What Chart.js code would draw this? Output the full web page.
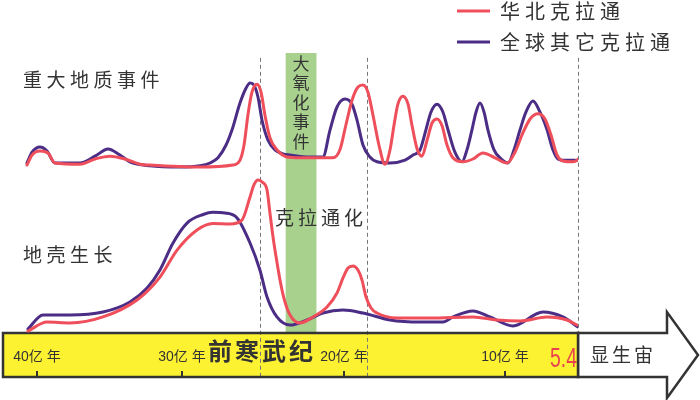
<!DOCTYPE html>
<html><head><meta charset="utf-8">
<script src="https://cdn.jsdelivr.net/npm/chart.js@4.4.1/dist/chart.umd.min.js"></script>
<style>html,body{margin:0;padding:0;background:#fff}canvas{display:block}</style>
</head><body><canvas id="c" width="700" height="400"></canvas>
<script>
// ---------- data (ages in 亿年, values are relative intensities) ----------
const SERIES_NAMES = ['华北克拉通', '全球其它克拉通'];
const TICK_AGES = [40, 30, 20, 10];
const TICK_LABELS = ['40亿 年', '30亿 年', '20亿 年', '10亿 年'];
const PHANEROZOIC_START = 5.4;
const BOUNDARY_AGES = [25.2, 18.6, 5.4];
const GOE_AGES = [23.6, 21.7];

// 重大地质事件 — 华北克拉通
const NCC_EVENT_AGE = [40.69,40.34,39.79,39.24,38.76,37.03,36.0,34.97,33.93,32.9,32.21,28.89,26.85,26.42,26.17,25.93,25.68,25.37,25.12,24.88,24.57,24.14,23.52,22.72,21.48,20.68,20.25,19.88,19.50,19.13,18.82,18.51,18.20,17.83,17.45,17.14,16.89,16.65,16.34,16.02,15.78,15.47,15.16,14.84,14.53,14.22,13.91,13.60,13.23,12.61,11.99,11.37,10.62,9.87,9.37,8.93,8.42,7.92,7.48,7.10,6.72,6.35,5.78,5.46,5.27];
const NCC_EVENT_VAL = [0,12.5,17.5,15,2.5,1,7.5,11,7.5,1,0,-2.5,0,6,25,62.5,91,101,91,62.5,34,19,10,9,9,9,19,50,81,97.5,100,91,62.5,25,1,19,50,76,86,76,50,21,11,31,52.5,57.5,49,25,9,4,7.5,15,9,2.5,16,37.5,57.5,64,57.5,37.5,12.5,5,4,6,10];
// 重大地质事件 — 全球其它克拉通
const GLB_EVENT_AGE = [40.69,40.34,39.79,39.31,38.76,37.03,36.0,35.10,34.28,33.59,32.21,30.14,28.89,28.27,27.78,27.28,26.91,26.42,26.05,25.80,25.56,25.31,25.06,24.69,24.26,23.77,23.33,22.10,21.30,20.86,20.43,19.94,19.50,19.19,18.82,18.39,17.95,17.14,16.21,15.71,15.28,14.91,14.60,14.22,13.85,13.54,13.11,12.67,12.36,12.05,11.80,11.55,11.30,11.06,10.68,10.31,9.81,9.43,9.05,8.68,8.24,7.79,7.35,6.98,6.66,6.35,5.46];
const GLB_EVENT_VAL = [2.5,16,22.5,17.5,2.5,2.5,11,20,12.5,4,-1,-2.5,-1,2.5,9,25,44,77.5,96,102.5,100,85,56,31,19,14,12.5,10,10,44,72.5,82.5,76,56,25,10,4,2.5,6,12.5,18.75,44,66,76,66,44,16,4,19,44,66,77.5,66,44,19,9,2.5,19,44,66,80,66,44,19,7.5,6,6];
// 地壳生长 — 华北克拉通
const NCC_GROWTH_AGE = [40.62,39.31,37.72,35.45,33.10,31.52,30.34,29.07,28.09,27.04,26.30,25.80,25.56,25.31,25.06,24.75,24.57,24.38,24.14,23.95,23.71,23.33,22.72,21.91,21.05,20.43,20.06,19.75,19.44,19.13,18.88,18.63,18.32,17.95,16.71,14.66,11.99,10.50,9.05,7.35,6.09,5.46];
const NCC_GROWTH_VAL = [-0.7,5.3,4.7,8.7,20,35.3,53.3,66.7,71,70.7,73.3,88.7,96.7,100,98.7,93.3,78,62,45.3,33.3,21.3,10,4.7,8.7,15.3,24.7,34.7,41.3,42.7,40,33.3,22,14.7,11.3,8,8,8.7,6.7,6,8.7,6.7,3.3];
// 地壳生长 — 全球其它克拉通
const GLB_GROWTH_AGE = [40.62,39.59,37.72,35.45,33.59,32.41,31.52,30.62,29.69,28.70,28.09,27.34,26.60,25.80,25.19,24.75,24.14,23.33,22.28,21.30,20.06,18.82,17.14,15.28,13.85,13.23,11.99,10.93,9.50,7.61,6.35,5.40];
const GLB_GROWTH_VAL = [0.7,10,10,12,18.7,28,40,58,71.3,77,78.5,78,74.7,58,40,22,8.7,3.3,6.7,11.3,13.3,11.3,6.7,5.3,5.3,8.7,12.7,8.7,2.7,12,8.7,2];

// ---------- scale ranges ----------
const EVENT_MIN = -265, EVENT_MAX = 206.25;
const GROWTH_MIN = -31.33, GROWTH_MAX = 220;

const RED = '#ee4f5b', PURPLE = '#4b2d86', INK = '#333333';
const CJK = '"Noto Sans CJK SC", sans-serif';

// ---------- a hand-drawn (piecewise linear) geological time axis ----------
const LinearScale = Chart.LinearScale || Chart.registry.getScale('linear');
class AgeScale extends LinearScale {
  _frac(age) {
    const A = AgeScale.anchorAges, F = AgeScale.anchorFracs;
    let i = 0;
    while (i < A.length - 2 && age < A[i + 1]) i++;
    return F[i] + (age - A[i]) / (A[i + 1] - A[i]) * (F[i + 1] - F[i]);
  }
  getPixelForValue(value) {
    if (value === null || value === undefined || isNaN(value)) return NaN;
    return this.getPixelForDecimal(this._frac(value));
  }
  getValueForPixel(pixel) {
    const d = this.getDecimalForPixel(pixel);
    const A = AgeScale.anchorAges, F = AgeScale.anchorFracs;
    let i = 0;
    while (i < F.length - 2 && d > F[i + 1]) i++;
    return A[i] + (d - F[i]) / (F[i + 1] - F[i]) * (A[i + 1] - A[i]);
  }
}
AgeScale.id = 'age';
AgeScale.defaults = LinearScale.defaults;
AgeScale.anchorAges = [40, 30, 20, 10, 5.4];
AgeScale.anchorFracs = [0.0591, 0.3113, 0.5930, 0.8730, 1.0];
Chart.register(AgeScale);

const pts = (ages, vals) => ages.map((a, i) => ({ x: a, y: vals[i] }));
function series(label, color, ages, vals, axis, order) {
  return {
    label, data: pts(ages, vals), yAxisID: axis, order,
    borderColor: color, backgroundColor: color, borderWidth: 3,
    pointRadius: 0, fill: false, cubicInterpolationMode: 'monotone',
    borderCapStyle: 'round', borderJoinStyle: 'round'
  };
}

// ---------- decorations ----------
const decor = {
  id: 'decor',
  afterLayout(chart) {
    const lg = chart.legend;
    if (!lg) return;
    lg.left = 446; lg.right = 700; lg.top = -10; lg.bottom = chart.chartArea.bottom;
    if (!lg._spaced) {
      const orig = lg.draw;
      lg.draw = function (...a) {
        const c = this.ctx; c.save(); c.letterSpacing = '5px'; orig.apply(this, a); c.restore();
      };
      lg._spaced = true;
    }
  },
  beforeDraw(chart) {
    const { ctx, chartArea: ca } = chart;
    const x = chart.scales.x, yE = chart.scales.yEvent;
    const barBottom = ca.bottom, barTop = barBottom - 44, mid = (barTop + barBottom) / 2;
    const xEnd = x.getPixelForValue(PHANEROZOIC_START);
    ctx.save();
    // Great Oxidation Event band
    const b0 = x.getPixelForValue(GOE_AGES[0]), b1 = x.getPixelForValue(GOE_AGES[1]);
    const bandTop = yE.getPixelForValue(140);
    ctx.fillStyle = '#a9d18e';
    ctx.fillRect(b0, bandTop, b1 - b0, barTop - bandTop);
    // Phanerozoic arrow
    ctx.beginPath();
    ctx.moveTo(xEnd, barTop); ctx.lineTo(xEnd + 89, barTop); ctx.lineTo(xEnd + 89, barTop - 21);
    ctx.lineTo(xEnd + 120, mid); ctx.lineTo(xEnd + 89, barBottom + 21); ctx.lineTo(xEnd + 89, barBottom);
    ctx.lineTo(xEnd, barBottom); ctx.closePath();
    ctx.fillStyle = '#fff'; ctx.fill();
    ctx.lineWidth = 2.5; ctx.strokeStyle = INK; ctx.lineJoin = 'miter'; ctx.stroke();
    // Precambrian bar
    ctx.fillStyle = '#fcf232';
    ctx.fillRect(ca.left, barTop, xEnd - ca.left, barBottom - barTop);
    // dashed boundaries
    const dashTop = yE.getPixelForValue(134);
    ctx.setLineDash([4, 3]); ctx.lineWidth = 1; ctx.strokeStyle = '#777';
    BOUNDARY_AGES.forEach(a => {
      const px = Math.round(x.getPixelForValue(a)) + 0.5;
      ctx.beginPath(); ctx.moveTo(px, dashTop);
      ctx.lineTo(px, a === PHANEROZOIC_START ? barTop : barBottom); ctx.stroke();
    });
    ctx.setLineDash([]);
    ctx.lineWidth = 2.5; ctx.strokeStyle = INK;
    ctx.strokeRect(ca.left, barTop, xEnd - ca.left, barBottom - barTop);
    ctx.restore();
  },
  afterDraw(chart) {
    const { ctx, chartArea: ca } = chart;
    const x = chart.scales.x;
    const barBottom = ca.bottom, barTop = barBottom - 44, mid = (barTop + barBottom) / 2;
    const xEnd = x.getPixelForValue(PHANEROZOIC_START);
    ctx.save();
    ctx.fillStyle = INK; ctx.textBaseline = 'middle'; ctx.textAlign = 'left';
    const txt = (s, px, py, size, spacing, weight) => {
      ctx.font = (weight || 'normal') + ' ' + size + 'px ' + CJK;
      ctx.letterSpacing = spacing + 'px';
      ctx.fillText(s, px, py);
    };
    txt('重大地质事件', 23, 80, 19, 4.5);
    txt('地壳生长', 23, 255, 19, 4.5);
    txt('克拉通化', 275, 218, 19, 4);
    txt('前寒武纪', 208, mid - 4, 24, 3, 'bold');
    ctx.textAlign = 'center';
    txt('显生宙', xEnd + 45, mid, 19, 3);
    // vertical 大氧化事件 in the band
    const bc = (x.getPixelForValue(GOE_AGES[0]) + x.getPixelForValue(GOE_AGES[1])) / 2;
    ctx.letterSpacing = '0px';
    ctx.font = '17px ' + CJK;
    [...'大氧化事件'].forEach((ch, i) => ctx.fillText(ch, bc, 63.5 + i * 19.5));
    // 5.4 label at the Precambrian / Phanerozoic boundary
    ctx.save();
    ctx.translate(xEnd - 1, mid + 5);
    ctx.scale(0.72, 1);
    ctx.textAlign = 'right';
    ctx.fillStyle = '#e8434f';
    ctx.font = '27px "Liberation Sans", Arial, sans-serif';
    ctx.fillText(String(PHANEROZOIC_START), 0, 0);
    ctx.restore();
    ctx.restore();
  }
};

new Chart(document.getElementById('c'), {
  type: 'line',
  data: {
    datasets: [
      series(SERIES_NAMES[0], RED, NCC_EVENT_AGE, NCC_EVENT_VAL, 'yEvent', 0),
      series(SERIES_NAMES[1], PURPLE, GLB_EVENT_AGE, GLB_EVENT_VAL, 'yEvent', 1),
      series(SERIES_NAMES[0], RED, NCC_GROWTH_AGE, NCC_GROWTH_VAL, 'yGrowth', 0),
      series(SERIES_NAMES[1], PURPLE, GLB_GROWTH_AGE, GLB_GROWTH_VAL, 'yGrowth', 1)
    ]
  },
  options: {
    responsive: false, animation: false, events: [],
    layout: { padding: { left: 3, right: 122, top: 0, bottom: 23 } },
    scales: {
      x: {
        type: 'age', min: PHANEROZOIC_START, max: 42.3,
        position: { yGrowth: GROWTH_MIN },
        border: { display: false },
        grid: { drawOnChartArea: false, drawTicks: true, tickLength: -6, color: INK, lineWidth: 2 },
        ticks: {
          padding: -22, color: INK, maxRotation: 0, autoSkip: false,
          font: { size: 14, family: '"Liberation Sans", "Noto Sans CJK SC", sans-serif' },
          callback: (v, i) => TICK_LABELS[i]
        },
        afterBuildTicks: s => { s.ticks = TICK_AGES.map(v => ({ value: v })); }
      },
      yEvent: { type: 'linear', display: false, min: EVENT_MIN, max: EVENT_MAX },
      yGrowth: { type: 'linear', display: false, min: GROWTH_MIN, max: GROWTH_MAX }
    },
    plugins: {
      tooltip: { enabled: false },
      legend: {
        position: 'chartArea', align: 'start',
        labels: {
          boxWidth: 33, boxHeight: 3, padding: 11, color: INK,
          font: { size: 20, family: CJK },
          generateLabels: chart => Chart.defaults.plugins.legend.labels.generateLabels(chart)
            .filter(it => it.datasetIndex < 2)
            .map(it => Object.assign(it, { lineWidth: 0, fillStyle: it.strokeStyle, fontColor: INK }))
        }
      }
    }
  },
  plugins: [decor]
});
</script>
</body></html>
